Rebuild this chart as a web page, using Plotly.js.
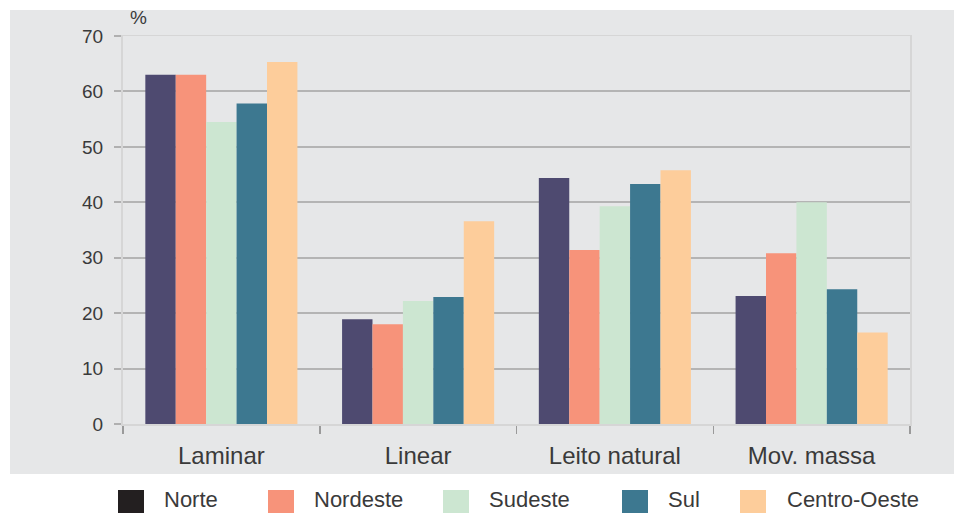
<!DOCTYPE html>
<html>
<head>
<meta charset="utf-8">
<script src="https://cdn.plot.ly/plotly-3.0.1.min.js"></script>
<style>html,body{margin:0;padding:0;background:#fff;}#chart{width:954px;height:513px;}</style>
</head>
<body>
<div id="chart"></div>
<script>
// ---- data ----
const categories = ["Laminar", "Linear", "Leito natural", "Mov. massa"];
const seriesNames = ["Norte", "Nordeste", "Sudeste", "Sul", "Centro-Oeste"];
const norte = [63.0, 18.9, 44.4, 23.1];
const nordeste = [63.0, 18.0, 31.4, 30.8];
const sudeste = [54.5, 22.2, 39.3, 40.0];
const sul = [57.8, 22.9, 43.3, 24.3];
const centroOeste = [65.3, 36.6, 45.8, 16.5];
const seriesValues = [norte, nordeste, sudeste, sul, centroOeste];
const barColors = ["#4e4a70", "#f7937a", "#cce6d1", "#3d7890", "#fdcd9b"];
const swatchColors = ["#231f20", "#f7937a", "#cce6d1", "#3d7890", "#fdcd9b"];
const yTicks = [0, 10, 20, 30, 40, 50, 60, 70];

// ---- layout helpers (pixel -> paper) ----
const M = {l: 123, r: 44, t: 36, b: 89};
const W = 954, H = 513;
const pw = W - M.l - M.r, ph = H - M.t - M.b;
const px = x => (x - M.l) / pw;
const py = y => (H - M.b - y) / ph;

const traces = seriesNames.map((name, i) => ({
  type: "bar",
  name: name,
  x: categories,
  y: seriesValues[i],
  marker: {color: barColors[i], line: {width: 0}},
  showlegend: false,
  hoverinfo: "x+y+name"
}));

const swatchX = [118, 268, 443, 622, 740];
const labelX = [163, 313, 488, 667, 786];

const shapes = [
  {type: "rect", xref: "paper", yref: "paper", layer: "below",
   x0: px(10), x1: px(960), y0: py(474), y1: py(10),
   fillcolor: "#e6e7e8", line: {width: 0}}
];
const annotations = [
  {xref: "paper", yref: "paper", x: px(138), y: py(18), text: "%", showarrow: false,
   xanchor: "center", yanchor: "middle", font: {family: "Liberation Sans, Arial", size: 19, color: "#3a3a3a"}}
];
seriesNames.forEach((name, i) => {
  shapes.push({type: "rect", xref: "paper", yref: "paper",
    x0: px(swatchX[i]), x1: px(swatchX[i] + 26), y0: py(516), y1: py(490),
    fillcolor: swatchColors[i], line: {width: 0}});
  annotations.push({xref: "paper", yref: "paper", x: px(labelX[i]), y: py(499),
    text: name, showarrow: false, xanchor: "left", yanchor: "middle",
    borderpad: 0,
    font: {family: "Liberation Sans, Arial", size: 22, color: "#3a3a3a"}});
});

const layout = {
  width: W, height: H,
  margin: M,
  paper_bgcolor: "#ffffff",
  plot_bgcolor: "#ffffff",
  barmode: "group",
  bargap: 0.227,
  bargroupgap: 0,
  showlegend: false,
  font: {family: "Liberation Sans, Arial", color: "#3a3a3a"},
  xaxis: {
    type: "category",
    tickson: "boundaries",
    ticks: "outside", ticklen: 8, tickwidth: 1.5, tickcolor: "#9a9a9a",
    showgrid: false,
    showline: true, linecolor: "#d6d6d6", linewidth: 1.5, mirror: true,
    tickfont: {size: 24, color: "#3a3a3a"},
    ticklabelstandoff: 10
  },
  yaxis: {
    range: [0, 70],
    tickvals: yTicks,
    ticks: "outside", ticklen: 7, tickwidth: 2, tickcolor: "#b0b0b0",
    showgrid: true, gridcolor: "#b4b4b4", gridwidth: 2,
    zeroline: false,
    showline: true, linecolor: "#d6d6d6", linewidth: 2, mirror: true,
    tickfont: {size: 19, color: "#3a3a3a"},
    ticklabelstandoff: 7
  },
  shapes: shapes,
  annotations: annotations
};

Plotly.newPlot("chart", traces, layout, {displayModeBar: false, staticPlot: true});
</script>
</body>
</html>
